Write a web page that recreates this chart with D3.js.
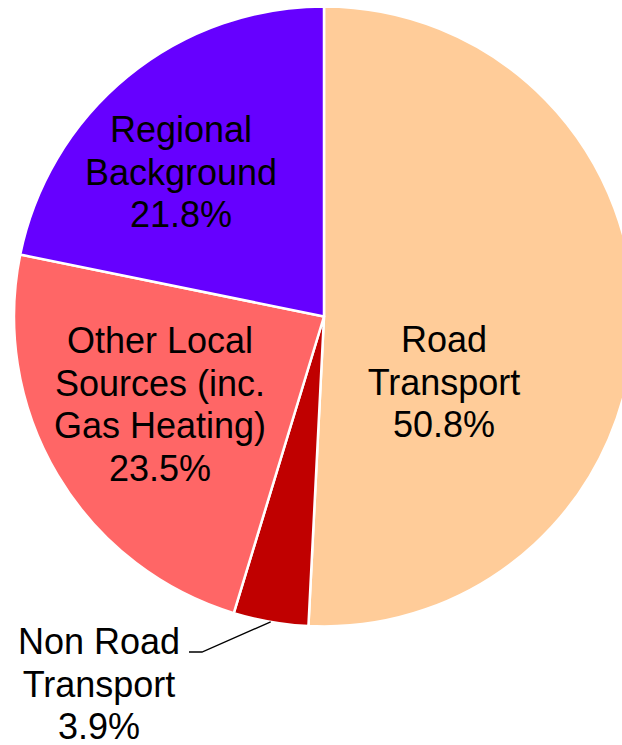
<!DOCTYPE html>
<html>
<head>
<meta charset="utf-8">
<script src="https://cdn.jsdelivr.net/npm/d3@7"></script>
<style>
  body { margin: 0; background: #fff; }
  svg text { font-family: "Liberation Sans", Arial, sans-serif; font-size: 36px; fill: #000; }
</style>
</head>
<body>
<div id="chart"></div>
<script>
// data (percent share)
var categories = ["Road Transport", "Non Road Transport", "Other Local Sources (inc. Gas Heating)", "Regional Background"];
var shares = [50.8, 3.9, 23.5, 21.8];
var labelLines = [
  ["Road", "Transport"],
  ["Non Road", "Transport"],
  ["Other Local", "Sources (inc.", "Gas Heating)"],
  ["Regional", "Background"]
];
var colors = ["#FFCC99", "#C00000", "#FF6666", "#6600FF"];

var width = 622, height = 745;
var cx = 324, cy = 316.5, radius = 310;
var lineH = 42.7;

// where each label block's first baseline sits (relative to pie centre)
var labelAnchor = [
  {x: 120, y: 35.5},
  {x: -225, y: 337.5},
  {x: -164, y: 36.5},
  {x: -143, y: -174.5}
];

var data = categories.map(function(c, i) {
  return {name: c, value: shares[i], lines: labelLines[i], color: colors[i], pos: labelAnchor[i]};
});

var svg = d3.select("#chart").append("svg")
    .attr("width", width)
    .attr("height", height);

var g = svg.append("g")
    .attr("transform", "translate(" + cx + "," + cy + ")");

var pie = d3.pie()
    .sort(null)
    .value(function(d) { return d.value; });

var arc = d3.arc()
    .innerRadius(0)
    .outerRadius(radius);

var arcs = pie(data);

g.selectAll("path.slice")
    .data(arcs)
  .enter().append("path")
    .attr("class", "slice")
    .attr("d", arc)
    .attr("fill", function(d) { return d.data.color; })
    .attr("stroke", "#fff")
    .attr("stroke-width", 2.5)
    .attr("stroke-linejoin", "round");

// leader line for the small slice
var small = arcs[1];
var edge = d3.arc().innerRadius(radius).outerRadius(radius).centroid(small);
var labelEnd = [-135, 335.5];
g.append("polyline")
    .attr("points", [edge, [labelEnd[0] + 13, labelEnd[1]], labelEnd].map(function(p) { return p.join(","); }).join(" "))
    .attr("fill", "none")
    .attr("stroke", "#000")
    .attr("stroke-width", 1.3);

var labels = g.selectAll("text.lbl")
    .data(arcs)
  .enter().append("text")
    .attr("class", "lbl")
    .attr("text-anchor", "middle")
    .attr("x", function(d) { return d.data.pos.x; })
    .attr("y", function(d) { return d.data.pos.y; });

labels.each(function(d) {
  var t = d3.select(this);
  var lines = d.data.lines.concat([d3.format(".1f")(d.data.value) + "%"]);
  lines.forEach(function(l, i) {
    t.append("tspan")
      .attr("x", d.data.pos.x)
      .attr("dy", i === 0 ? 0 : lineH)
      .text(l);
  });
});
</script>
</body>
</html>
